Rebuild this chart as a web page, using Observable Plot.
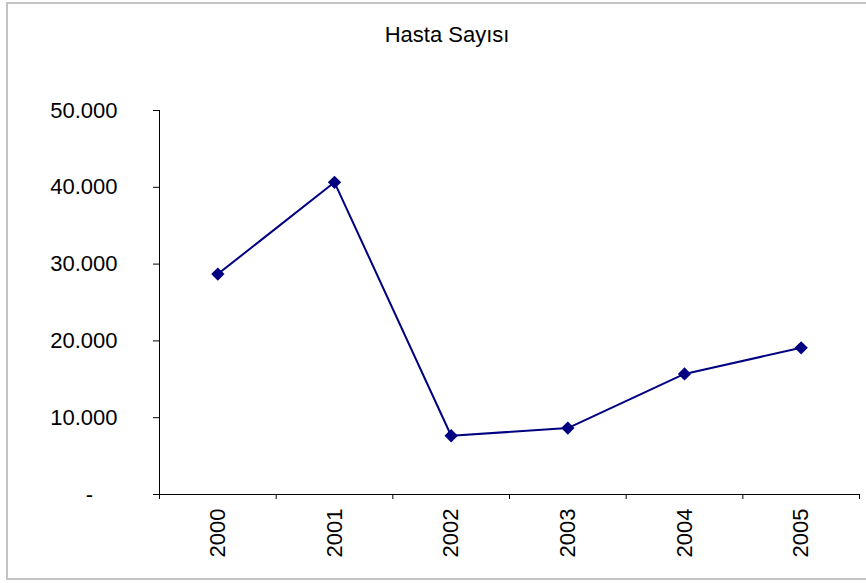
<!DOCTYPE html>
<html>
<head>
<meta charset="utf-8">
<script src="https://cdn.jsdelivr.net/npm/d3@7"></script>
<script src="https://cdn.jsdelivr.net/npm/@observablehq/plot@0.6"></script>
<style>
  html, body { margin: 0; padding: 0; background: #fff; overflow: hidden; }
  #wrap { position: relative; width: 866px; height: 583px; font-family: "Liberation Sans", Arial, sans-serif; }
  #frame { position: absolute; left: 6px; top: 2px; width: 870px; height: 578px; border: 2px solid #c4c4c4; box-sizing: border-box; pointer-events: none; }
  #title { height: 50px; box-sizing: border-box; padding-top: 22px; line-height: 26px; font-size: 22px; text-align: center; padding-left: 28px; color: #000; }
  svg { display: block; }
</style>
</head>
<body>
<div id="wrap">
  <div id="title">Hasta Sayısı</div>
  <div id="chart"></div>
  <div id="frame"></div>
</div>
<script>
const years = ["2000", "2001", "2002", "2003", "2004", "2005"];
const patients = [28700, 40650, 7650, 8650, 15700, 19100];
const yTicks = [0, 10000, 20000, 30000, 40000, 50000];

const data = years.map((y, i) => ({year: y, pos: i + 0.5, value: patients[i]}));
const centers = years.map((y, i) => i + 0.5);
const bounds = d3.range(years.length + 1);

const loc = d3.formatLocale({decimal: ",", thousands: ".", grouping: [3], currency: ["", ""]});
const fmt = loc.format(",");
const nb = "\u00a0";
const yFmt = d => d === 0 ? "-" + nb.repeat(4) : fmt(d);

const plot = Plot.plot({
  width: 866,
  height: 533,
  marginLeft: 159,
  marginRight: 7,
  marginTop: 60,
  marginBottom: 89,
  style: {fontFamily: "'Liberation Sans', Arial, sans-serif", fontSize: "22px", color: "#000", background: "transparent"},
  x: {domain: [0, years.length], axis: null},
  y: {domain: [0, 50000], axis: null},
  marks: [
    Plot.axisY(yTicks, {tickSize: 6, tickPadding: 36, tickFormat: yFmt, label: null, stroke: "#000", fontSize: 22}),
    Plot.axisX(bounds, {tickSize: 5, tickFormat: () => "", label: null, stroke: "#000"}),
    Plot.axisX(centers, {tickSize: 0, tickPadding: 14, tickRotate: -90, tickFormat: (d, i) => years[i], label: null, fontSize: 22}),
    Plot.ruleX([0], {y1: 0, y2: 50000, stroke: "#000"}),
    Plot.ruleY([0], {stroke: "#000"}),
    Plot.line(data, {x: "pos", y: "value", stroke: "#000080", strokeWidth: 2}),
    Plot.dot(data, {x: "pos", y: "value", symbol: "diamond2", r: 6, fill: "#000080", stroke: "none"})
  ]
});
document.getElementById("chart").appendChild(plot);
</script>
</body>
</html>
